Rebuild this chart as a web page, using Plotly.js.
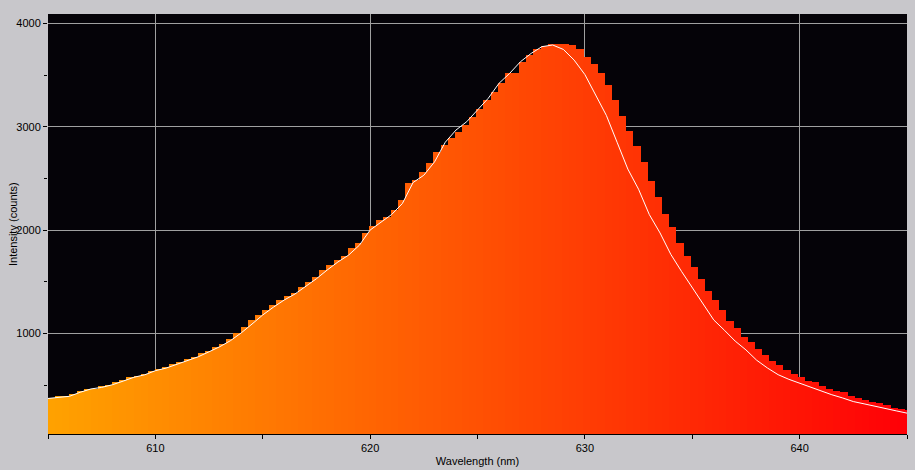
<!DOCTYPE html>
<html><head><meta charset="utf-8">
<script src="https://cdn.plot.ly/plotly-3.0.1.min.js"></script>
<style>html,body{margin:0;padding:0;background:#C8C7CB;} #chart{width:915px;height:470px;}
.barlayer path{shape-rendering:crispEdges;}</style>
</head><body><div id="chart"></div>
<script>
// Histogram bins (nm, bin centres) and counts
const wavelength = [
605.17,605.50,605.83,606.16,606.50,606.83,607.16,607.49,607.83,608.16,
608.49,608.82,609.16,609.49,609.82,610.16,610.49,610.82,611.15,611.49,
611.82,612.15,612.48,612.82,613.15,613.48,613.81,614.15,614.48,614.81,
615.14,615.47,615.81,616.14,616.47,616.80,617.14,617.47,617.80,618.13,
618.47,618.80,619.13,619.46,619.80,620.13,620.46,620.79,621.13,621.46,
621.79,622.12,622.45,622.79,623.12,623.45,623.78,624.12,624.45,624.78,
625.11,625.45,625.78,626.11,626.44,626.78,627.11,627.44,627.77,628.11,
628.44,628.77,629.10,629.43,629.77,630.10,630.43,630.76,631.10,631.43,
631.76,632.09,632.43,632.76,633.09,633.42,633.76,634.09,634.42,634.75,
635.09,635.42,635.75,636.08,636.41,636.75,637.08,637.41,637.74,638.08,
638.41,638.74,639.07,639.41,639.74,640.07,640.40,640.74,641.07,641.40,
641.73,642.07,642.40,642.73,643.06,643.40,643.73,644.06,644.39,644.72,
645.06];
const counts = [
375,391,391,415,445,462,462,490,503,526,
549,575,590,607,639,652,675,703,720,752,
774,813,829,871,900,950,1005,1065,1125,1178,
1226,1274,1323,1362,1394,1452,1500,1548,1613,1662,
1710,1749,1823,1872,1975,2040,2097,2129,2194,2291,
2452,2484,2560,2646,2752,2823,2888,2952,3016,3091,
3171,3258,3339,3420,3517,3517,3629,3694,3749,3781,
3797,3797,3797,3791,3752,3677,3607,3517,3404,3258,
3104,2958,2813,2658,2475,2320,2155,2029,1874,1749,
1642,1526,1410,1323,1226,1120,1052,965,917,849,
791,733,694,645,607,578,539,529,491,462,
442,433,394,375,355,336,326,307,278,268,
259];
// White overlay curve
const fitWavelength = [
605.0,605.5,606.0,606.5,607.0,607.5,608.0,608.5,609.0,609.5,
610.0,610.5,611.0,611.5,612.0,612.5,613.0,613.5,614.0,614.5,
615.0,615.5,616.0,616.5,617.0,617.5,618.0,618.5,619.0,619.5,
620.0,620.5,621.0,621.5,622.0,622.5,623.0,623.5,624.0,624.5,
625.0,625.5,626.0,626.5,627.0,627.5,628.0,628.5,629.0,629.5,
630.0,630.5,631.0,631.5,632.0,632.5,633.0,633.5,634.0,634.5,
635.0,635.5,636.0,636.5,637.0,637.5,638.0,638.5,639.0,639.5,
640.0,640.5,641.0,641.5,642.0,642.5,643.0,643.5,644.0,644.5,
645.0];
const fitCounts = [
370,383,391,430,462,477,503,538,575,599,
639,664,703,737,774,822,871,930,1005,1090,
1178,1254,1323,1381,1452,1529,1613,1691,1758,1853,
2000,2075,2150,2256,2460,2530,2660,2850,2968,3049,
3162,3275,3420,3517,3629,3710,3775,3791,3748,3645,
3505,3300,3110,2850,2590,2395,2150,1972,1765,1600,
1440,1290,1130,1030,925,840,740,665,600,555,
518,478,440,406,375,340,318,295,266,250,
228];
const xTickVals = [610,620,630,640];
const yTickVals = [1000,2000,3000,4000];

// spectral colouring of each bar (orange -> red)
const barColors = wavelength.map(w => {
  const t = Math.max(0, Math.min(1, (645 - w) / 40));
  return 'rgb(255,' + Math.round(t * 162) + ',' + Math.round((1 - t) * 6) + ')';
});

const font = {family: 'Liberation Sans, Arial, sans-serif', size: 11, color: '#000'};

const traces = [
  {type: 'bar', x: wavelength, y: counts, width: 0.345,
   marker: {color: barColors, line: {width: 0}},
   hoverinfo: 'x+y'},
  {type: 'scatter', mode: 'lines', x: fitWavelength, y: fitCounts,
   line: {color: '#FFFFFF', width: 1}}
];

const layout = {
  width: 915, height: 470,
  margin: {l: 48, r: 8, t: 14, b: 36},
  paper_bgcolor: '#C8C7CB', plot_bgcolor: '#050308',
  bargap: 0, showlegend: false, font: font,
  xaxis: {
    range: [605, 645], tickmode: 'array', tickvals: xTickVals,
    ticks: 'outside', ticklen: 4, tickcolor: '#000', tickwidth: 1,
    showgrid: true, gridcolor: '#A0A0A0', gridwidth: 1, zeroline: false,
    showline: true, linecolor: '#000', linewidth: 1,
    tickfont: font,
    minor: {tickmode: 'array', tickvals: [605,615,625,635,645], ticks: 'outside', ticklen: 4, tickcolor: '#000', showgrid: false},
    title: {text: 'Wavelength (nm)', font: font, standoff: 4}
  },
  yaxis: {
    range: [26, 4091], tickmode: 'array', tickvals: yTickVals,
    ticks: 'outside', ticklen: 4, tickcolor: '#000', tickwidth: 1,
    showgrid: true, gridcolor: '#A0A0A0', gridwidth: 1, zeroline: false,
    showline: false,
    tickfont: font,
    minor: {tickmode: 'array', tickvals: [500,1500,2500,3500], ticks: 'outside', ticklen: 3, tickcolor: '#000', showgrid: false}
  },
  annotations: [{
    text: 'Intensity (counts)', textangle: -90, font: font, showarrow: false,
    xref: 'paper', yref: 'paper', x: -0.0407, y: 0.5, xanchor: 'center', yanchor: 'middle'
  }]
};

Plotly.newPlot('chart', traces, layout, {displayModeBar: false, staticPlot: true});
</script>
</body></html>
